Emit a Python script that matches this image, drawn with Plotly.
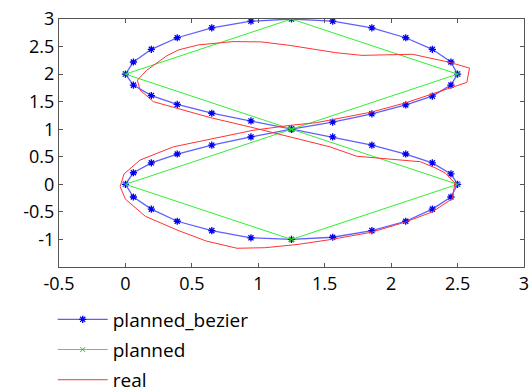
import plotly.graph_objects as go

# planned path (figure eight) vertices
planned_x = [1.25, 2.5, 1.25, 0.0, 1.25, 2.5, 1.25, 0.0, 1.25]
planned_y = [1.0, 2.0, 3.0, 2.0, 1.0, 0.0, -1.0, 0.0, 1.0]

# bezier-smoothed planned path
bezier_x = [1.25, 1.56, 1.855, 2.11, 2.31, 2.45, 2.5, 2.45, 2.31, 2.11, 1.855, 1.56, 1.25,
            0.945, 0.65, 0.39, 0.195, 0.06, 0.0, 0.06, 0.195, 0.39, 0.65, 0.945, 1.25,
            1.56, 1.855, 2.11, 2.31, 2.45, 2.5, 2.45, 2.31, 2.11, 1.855, 1.56, 1.25,
            0.945, 0.65, 0.39, 0.195, 0.06, 0.0, 0.06, 0.195, 0.39, 0.65, 0.945, 1.25]
bezier_y = [1.0, 1.13, 1.28, 1.44, 1.6, 1.8, 2.0, 2.22, 2.45, 2.66, 2.84, 2.96, 3.0,
            2.96, 2.84, 2.66, 2.45, 2.22, 2.0, 1.8, 1.61, 1.45, 1.29, 1.15, 1.0,
            0.86, 0.71, 0.55, 0.39, 0.19, 0.0, -0.23, -0.45, -0.67, -0.84, -0.96, -1.0,
            -0.97, -0.84, -0.67, -0.45, -0.23, 0.0, 0.21, 0.39, 0.55, 0.71, 0.86, 1.0]

# real (measured) trajectory
real_x = [1.44, 1.57, 1.85, 2.11, 2.32, 2.57, 2.59, 2.43, 2.16, 1.78, 1.58, 1.24, 1.02,
          0.81, 0.55, 0.4, 0.31, 0.16, 0.09, 0.11, 0.21, 0.39, 0.64, 0.94, 1.24,
          1.54, 1.74, 2.22, 2.34, 2.41, 2.48, 2.46, 2.31, 2.1, 1.85, 1.55, 1.3, 1.05,
          0.84, 0.61, 0.39, 0.15, 0.0, -0.04, -0.01, 0.11, 0.36, 0.71, 0.96, 1.24, 1.44]
real_y = [1.12, 1.18, 1.31, 1.48, 1.65, 1.85, 2.11, 2.22, 2.36, 2.34, 2.39, 2.52, 2.585,
          2.59, 2.53, 2.44, 2.33, 2.07, 1.89, 1.71, 1.5, 1.38, 1.21, 1.04, 0.86,
          0.68, 0.51, 0.41, 0.29, 0.2, 0.02, -0.26, -0.5, -0.69, -0.87, -1.0, -1.09, -1.15,
          -1.16, -1.03, -0.83, -0.58, -0.27, -0.04, 0.19, 0.44, 0.68, 0.86, 0.98, 1.07, 1.12]

x_ticks = [-0.5, 0, 0.5, 1, 1.5, 2, 2.5, 3]
y_ticks = [-1, -0.5, 0, 0.5, 1, 1.5, 2, 2.5, 3]

FONT = "Open Sans"

fig = go.Figure()
fig.add_trace(go.Scatter(
    x=bezier_x, y=bezier_y, mode="lines+markers", name="planned_bezier",
    legendgroup="a",
    line=dict(color="rgba(40,40,255,0.75)", width=1.3),
    marker=dict(symbol="asterisk-open", size=6, color="#0000ee",
                line=dict(width=1.3, color="#0000ee")),
))
fig.add_trace(go.Scatter(
    x=planned_x, y=planned_y, mode="lines+markers", name="planned",
    legendgroup="b",
    line=dict(color="#33ee33", width=1),
    marker=dict(symbol="x-thin-open", size=5, color="#22cc22",
                line=dict(width=1, color="#22cc22")),
))
fig.add_trace(go.Scatter(
    x=real_x, y=real_y, mode="lines", name="real",
    legendgroup="c",
    line=dict(color="#ff3333", width=1),
))

axis_common = dict(
    showgrid=False, zeroline=False, showline=True, linecolor="#555555", linewidth=1,
    mirror="ticks", ticks="inside", ticklen=4, tickcolor="#555555",
    tickfont=dict(family=FONT, size=18, color="black"),
    automargin=False, ticklabeloverflow="allow",
)
fig.update_xaxes(range=[-0.5, 3], tickvals=x_ticks, ticktext=[str(v) for v in x_ticks],
                 **axis_common)
fig.update_yaxes(range=[-1.5, 3], tickvals=y_ticks, ticktext=[str(v) for v in y_ticks],
                 **axis_common)

fig.update_layout(
    width=530, height=392,
    margin=dict(l=59, r=6, t=19, b=125, autoexpand=False),
    paper_bgcolor="white", plot_bgcolor="white",
    font=dict(family=FONT, size=18, color="black"),
    legend=dict(
        x=-0.0135, y=-0.135, xanchor="left", yanchor="top",
        orientation="v", tracegroupgap=2.5, itemwidth=50,
        font=dict(family=FONT, size=19, color="black"),
        bgcolor="rgba(0,0,0,0)",
    ),
)

fig.write_html("out.html", config={"displayModeBar": False},
               post_script="document.body.style.margin='0px';")
